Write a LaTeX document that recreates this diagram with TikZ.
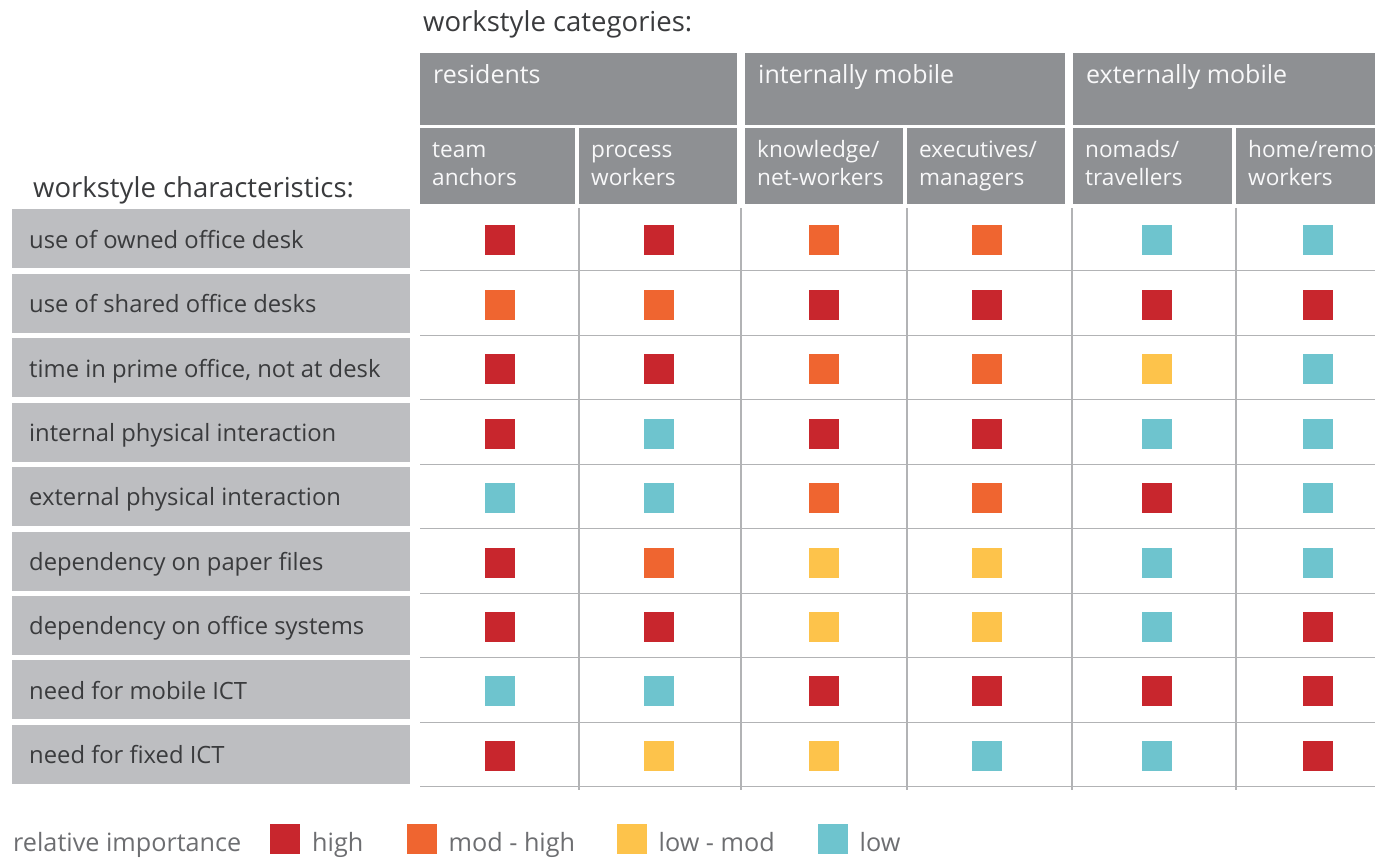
\documentclass[tikz,border=0pt]{standalone}
\usepackage{fontspec}
\setmainfont{Open Sans}

\definecolor{hdrgray}{HTML}{8E9093}
\definecolor{rowgray}{HTML}{BDBEC1}
\definecolor{gridgray}{HTML}{B2B3B5}
\definecolor{darktext}{HTML}{3A3B3D}
\definecolor{legtext}{HTML}{6D6E71}
\definecolor{cH}{HTML}{C8262D}
\definecolor{cM}{HTML}{EF6530}
\definecolor{cY}{HTML}{FDC34B}
\definecolor{cL}{HTML}{6EC4CE}

\begin{document}
\begin{tikzpicture}[x=1pt,y=-1pt,
        hdrbox/.style={fill=hdrgray,anchor=north west,inner sep=0pt,outer sep=0pt},
        grptext/.style={text=white!94!hdrgray,anchor=base west,inner sep=0pt,font=\fontsize{25}{28}\selectfont},
        subtext/.style={text=white!94!hdrgray,anchor=base west,inner sep=0pt,align=left,font=\fontsize{22.6}{28}\selectfont},
        rowbox/.style={fill=rowgray,anchor=north west,inner sep=0pt,minimum width=398pt,minimum height=59pt},
        rowtext/.style={text=darktext,anchor=base west,inner sep=0pt,font=\fontsize{23.8}{26}\selectfont},
        titletext/.style={text=darktext,anchor=base west,inner sep=0pt,font=\fontsize{27.5}{30}\selectfont},
        legtxt/.style={text=legtext,anchor=base west,inner sep=0pt,font=\fontsize{25.2}{28}\selectfont},
        cell/.style={minimum size=30pt,inner sep=0pt},
        gridline/.style={draw=gridgray,line width=1.4pt}]
        \clip (0,0) rectangle (1375,858);
        \node[titletext] (cats) at (423,32) {workstyle categories:};
        \node[titletext] (chars) at (33,198) {workstyle characteristics:};
        \foreach \name/\x/\w/\txt in {residents/420/317/residents, internal/745/320/internally mobile, external/1073/330/externally mobile}
            {\node[hdrbox,minimum width=\w pt,minimum height=72pt] (\name) at (\x,53) {};
             \node[grptext] (\name-t) at (\x+13,84) {\txt};}
        \foreach \name/\x/\w/\txt in {team/420/155/{team\\anchors}, process/579/158/{process\\workers}, knowledge/745/158/{knowledge/\\net-workers}, executives/907/158/{executives/\\managers}, nomads/1073/159/{nomads/\\travellers}, home/1236/160/{home/remote\\workers}}
            {\node[hdrbox,minimum width=\w pt,minimum height=76pt] (\name) at (\x,128) {};
             \node[subtext] (\name-t) at (\x+12,186) {\txt};}
        \foreach \k in {0,...,8}
            \draw[gridline] (420,{270.7+64.5*\k}) -- (1375,{270.7+64.5*\k});
        \foreach \x in {579,741,907,1072,1236}
            \draw[gridline] (\x,208) -- (\x,790);
        \foreach \lbl [count=\i from 0] in {use of owned office desk, use of shared office desks, {time in prime office, not at desk}, internal physical interaction, external physical interaction, dependency on paper files, dependency on office systems, need for mobile ICT, need for fixed ICT}
            {\node[rowbox] (row\i) at (12,{209.3+64.4*\i}) {};
             \node[rowtext] (row\i-t) at (29,{248.3+64.4*\i}) {\lbl};}
        \foreach \vals [count=\i from 0] in {{cH,cH,cM,cM,cL,cL}, {cM,cM,cH,cH,cH,cH}, {cH,cH,cM,cM,cY,cL}, {cH,cL,cH,cH,cL,cL}, {cL,cL,cM,cM,cH,cL}, {cH,cM,cY,cY,cL,cL}, {cH,cH,cY,cY,cL,cH}, {cL,cL,cH,cH,cH,cH}, {cH,cY,cY,cL,cL,cH}}
            \foreach \c [count=\j from 0] in \vals
                {\pgfmathsetmacro\cx{{499.5,658.5,823.5,987,1156.5,1318}[\j]}
                 \node[cell,fill=\c] (sq-\i-\j) at (\cx,{240.5+64.4*\i}) {};}
        \node[legtxt] (legend) at (13,851) {relative importance};
        \foreach \name/\x/\c/\txt in {hi/285/cH/high, mh/421.5/cM/mod - high, lm/631.5/cY/low - mod, lo/832.5/cL/low}
            {\node[cell,fill=\c] (key-\name) at (\x,838.5) {};
             \node[legtxt] (key-\name-t) at ([xshift=27pt]key-\name.center |- legend.base) {\txt};}
\end{tikzpicture}
\end{document}
